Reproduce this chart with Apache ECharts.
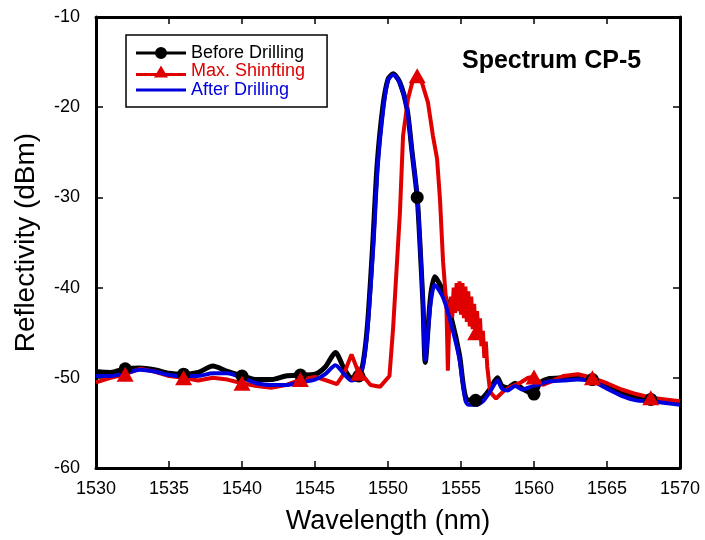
<!DOCTYPE html>
<html>
<head>
<meta charset="utf-8">
<script src="https://cdn.jsdelivr.net/npm/echarts@6/dist/echarts.min.js"></script>
<style>
  html, body { margin: 0; padding: 0; background: #fff; }
  #chart { width: 705px; height: 540px; }
</style>
</head>
<body>
<div id="chart"></div>
<script>
// wavelength (nm), reflectivity (dBm)
var beforeDrilling = [
  [1530,-49.3],[1531,-49.4],[1532,-49.0],[1533,-48.9],[1534,-49.1],[1535,-49.5],[1536,-49.6],
  [1537,-49.4],[1538,-48.7],[1539,-49.3],[1540,-49.8],[1541,-50.2],[1542,-50.2],[1543,-49.8],
  [1544,-49.7],[1545,-49.6],[1545.7,-48.8],[1546.4,-47.2],[1547,-49.0],[1547.5,-50.0],[1548,-49.8],
  [1548.3,-48.3],[1548.6,-44.0],[1548.95,-35.3],[1549.25,-26.5],[1549.65,-19.9],[1550,-16.9],
  [1550.35,-16.3],[1550.8,-17.2],[1551.3,-20.1],[1551.65,-25.0],[1552,-30.0],[1552.2,-35.5],
  [1552.4,-42.0],[1552.55,-48.3],[1552.9,-41.2],[1553.2,-38.8],[1553.8,-40.5],[1554.4,-43.8],
  [1554.9,-47.5],[1555.35,-52.3],[1556,-52.5],[1556.5,-52.2],[1557,-51.2],[1557.5,-50.0],
  [1557.8,-50.9],[1558.2,-51.1],[1558.7,-50.6],[1559.2,-51.2],[1560,-51.8],[1560.4,-50.6],
  [1561,-50.1],[1562,-50.0],[1563,-49.9],[1564,-50.2],[1565,-50.9],[1566,-51.7],[1567,-52.2],
  [1568,-52.4],[1569,-52.6],[1570,-52.8]
];

var maxShifting = [
  [1530,-50.5],[1531,-50.0],[1532,-49.6],[1533,-49.0],[1534,-49.3],[1535,-49.8],[1536,-50.0],
  [1537,-50.3],[1538,-50.0],[1539,-50.2],[1540,-50.6],[1541,-50.9],[1542,-51.1],[1543,-50.8],
  [1544,-50.2],[1545,-49.9],[1545.8,-50.3],[1546.5,-50.7],[1547,-49.5],[1547.5,-47.4],[1548,-49.5],
  [1548.3,-49.8],[1548.8,-50.8],[1549.45,-51.0],[1550.1,-49.8],[1550.35,-44.5],[1550.62,-37.1],
  [1550.82,-31.6],[1551.03,-23.2],[1551.37,-19.1],[1551.7,-17.0],[1552,-16.5],[1552.33,-17.3],
  [1552.74,-19.5],[1553.08,-23.2],[1553.36,-25.7],[1553.56,-30.2],[1553.77,-37.1],[1554.0,-41.9],
  [1554.1,-49.2],[1554.2,-43.6],[1554.3,-41.0],[1554.4,-43.3],[1554.5,-40.0],[1554.6,-42.8],
  [1554.7,-39.5],[1554.8,-42.6],[1554.9,-39.3],[1555.0,-43.0],[1555.1,-39.5],[1555.2,-43.4],
  [1555.3,-39.9],[1555.4,-43.8],[1555.5,-40.4],[1555.6,-44.3],[1555.7,-41.0],[1555.8,-44.6],
  [1555.9,-41.8],[1556.0,-45.0],[1556.1,-42.6],[1556.2,-45.4],[1556.3,-43.4],[1556.4,-46.5],
  [1556.5,-44.8],[1556.6,-47.8],[1556.7,-46.0],[1556.8,-48.8],[1557,-51.6],[1557.4,-52.3],
  [1557.9,-51.5],[1558.4,-51.0],[1559,-50.6],[1559.6,-50.0],[1560,-49.9],[1560.6,-50.8],
  [1561.2,-50.4],[1562,-49.8],[1563,-49.6],[1564,-50.0],[1565,-50.6],[1566,-51.3],[1567,-51.8],
  [1568,-52.2],[1569,-52.4],[1570,-52.6]
];

var afterDrilling = [
  [1530,-49.8],[1531,-49.8],[1532,-49.5],[1533,-49.1],[1534,-49.3],[1535,-49.7],[1536,-49.8],
  [1537,-49.8],[1538,-49.5],[1539,-49.5],[1540,-50.0],[1541,-50.6],[1542,-50.8],[1543,-50.8],
  [1544,-50.5],[1545,-50.2],[1545.7,-49.6],[1546.4,-48.6],[1547,-49.6],[1547.5,-50.3],[1548,-50.0],
  [1548.3,-48.5],[1548.6,-44.5],[1549,-35.3],[1549.3,-26.5],[1549.7,-19.9],[1550,-17.0],
  [1550.35,-16.4],[1550.8,-17.3],[1551.3,-20.2],[1551.65,-25.0],[1552,-29.8],[1552.2,-35.3],
  [1552.4,-41.9],[1552.55,-48.0],[1552.9,-42.0],[1553.2,-39.7],[1553.8,-41.2],[1554.4,-44.5],
  [1554.9,-48.0],[1555.3,-52.5],[1555.5,-53.0],[1556,-53.0],[1556.5,-52.6],[1557,-51.5],
  [1557.5,-50.3],[1557.8,-51.2],[1558.2,-51.4],[1558.7,-50.9],[1559.2,-51.3],[1559.8,-51.0],
  [1560.4,-50.7],[1561,-50.4],[1562,-50.3],[1563,-50.2],[1564,-50.4],[1565,-51.2],[1566,-52.0],
  [1567,-52.5],[1568,-52.6],[1569,-52.8],[1570,-53.0]
];

// wavelengths where the symbols sit
var markerWavelengths = [1532, 1536, 1540, 1544, 1548, 1552, 1556, 1560, 1564, 1568];

var seriesNames = ['Before Drilling', 'Max. Shinfting', 'After Drilling'];
var seriesColors = ['#000000', '#e00000', '#0000dd'];

var FONT = 'Liberation Sans';

function markersOf(data) {
  return data.filter(function (p) { return markerWavelengths.indexOf(p[0]) >= 0; });
}

var chart = echarts.init(document.getElementById('chart'));

var axisLine = { show: true, onZero: false, lineStyle: { color: '#000', width: 3 } };
var axisTick = { show: true, inside: true, length: 7, lineStyle: { color: '#000', width: 1.5 } };

var option = {
  animation: false,
  backgroundColor: '#fff',
  title: {
    text: 'Spectrum CP-5',
    left: 457,
    top: 44,
    textStyle: { fontFamily: FONT, fontSize: 25, fontWeight: 'bold', color: '#000' }
  },
  legend: {
    orient: 'vertical',
    left: 126,
    top: 35,
    padding: [9, 22, 8, 10],
    borderColor: '#000',
    borderWidth: 1.5,
    itemWidth: 50,
    itemHeight: 12,
    itemGap: 0.5,
    textStyle: { fontFamily: FONT, fontSize: 18, lineHeight: 18 },
    data: [
      { name: seriesNames[0], icon: 'path://M0,4.5H50V7.5H0Z M19,6a6,6 0 1,1 12,0a6,6 0 1,1 -12,0Z',
        textStyle: { color: seriesColors[0] } },
      { name: seriesNames[1], icon: 'path://M0,7.5H50V10.5H0Z M18,12L25,0L32,12Z',
        textStyle: { color: seriesColors[1] } },
      { name: seriesNames[2], icon: 'path://M0,4.5H50V7.5H0Z M0,0h0.01v0.01h-0.01Z M0,12h0.01v-0.01h-0.01Z',
        textStyle: { color: seriesColors[2] } }
    ]
  },
  grid: { left: 96, right: 25, top: 17, bottom: 69 },
  xAxis: [{
    type: 'value', min: 1530, max: 1570, interval: 5, position: 'bottom',
    axisLine: axisLine, axisTick: axisTick, splitLine: { show: false },
    axisLabel: { fontFamily: FONT, fontSize: 18, color: '#000', margin: 12,
      formatter: function (v) { return String(v); } },
    name: 'Wavelength (nm)', nameLocation: 'middle', nameGap: 40,
    nameTextStyle: { fontFamily: FONT, fontSize: 27, color: '#000' }
  }, {
    type: 'value', min: 1530, max: 1570, interval: 5, position: 'top',
    axisLine: axisLine, axisTick: axisTick, splitLine: { show: false },
    axisLabel: { show: false }
  }],
  yAxis: [{
    type: 'value', min: -60, max: -10, interval: 10, position: 'left',
    axisLine: axisLine, axisTick: axisTick, splitLine: { show: false },
    axisLabel: { fontFamily: FONT, fontSize: 18, color: '#000', margin: 16 },
    name: 'Reflectivity (dBm)', nameLocation: 'middle', nameGap: 56,
    nameTextStyle: { fontFamily: FONT, fontSize: 28, color: '#000' }
  }, {
    type: 'value', min: -60, max: -10, interval: 10, position: 'right',
    axisLine: axisLine, axisTick: axisTick, splitLine: { show: false },
    axisLabel: { show: false }
  }],
  series: [
    {
      name: seriesNames[0], type: 'line', data: beforeDrilling,
      showSymbol: false, color: seriesColors[0], smooth: 0.25,
      lineStyle: { width: 5, color: seriesColors[0] }, z: 2
    },
    {
      name: seriesNames[1], type: 'line', data: maxShifting,
      showSymbol: false, color: seriesColors[1],
      lineStyle: { width: 4, color: seriesColors[1] }, z: 2
    },
    {
      name: seriesNames[2], type: 'line', data: afterDrilling,
      symbol: 'none', color: seriesColors[2], smooth: 0.25,
      lineStyle: { width: 4, color: seriesColors[2] }, z: 2
    },
    {
      name: seriesNames[0], type: 'scatter', data: markersOf(beforeDrilling),
      symbol: 'circle', symbolSize: 13, itemStyle: { color: seriesColors[0], opacity: 1 }, z: 4
    },
    {
      name: seriesNames[1], type: 'scatter', data: markersOf(maxShifting),
      symbol: 'triangle', symbolSize: [17, 15], itemStyle: { color: seriesColors[1], opacity: 1 }, z: 5
    }
  ]
};

chart.setOption(option);
</script>
</body>
</html>
